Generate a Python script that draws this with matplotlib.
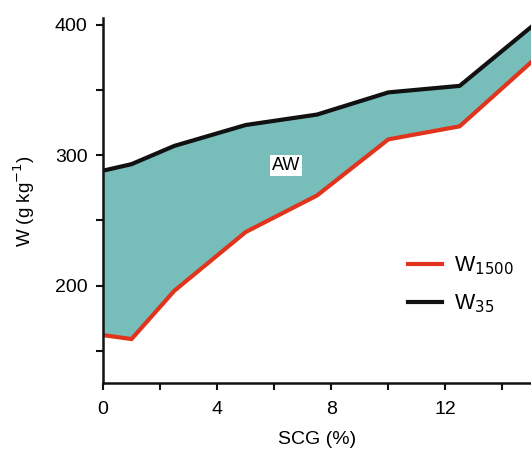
import matplotlib
matplotlib.use('Agg')
import matplotlib.pyplot as plt
import numpy as np
from matplotlib.ticker import MultipleLocator, FixedLocator

plt.rcParams['font.family'] = ['Liberation Sans', 'DejaVu Sans']

# data
scg = [0, 1, 2.5, 5, 7.5, 10, 12.5, 15]
w35 = [288, 293, 307, 323, 331, 348, 353, 398]
w1500 = [162, 159, 196, 241, 269, 312, 322, 371]

fill_color = '#77BDBA'
red = '#E0341C'
black = '#111111'

fig = plt.figure(figsize=(5.31, 4.5), dpi=100)
ax = fig.add_axes([0.194, 0.148, 0.806, 0.812])

ax.fill_between(scg, w1500, w35, color=fill_color, lw=0, zorder=1)
ax.plot(scg, w1500, color=red, lw=3, solid_joinstyle='miter', label='W$_{1500}$', zorder=3)
ax.plot(scg, w35, color=black, lw=3, solid_joinstyle='miter', label='W$_{35}$', zorder=3)

ax.text(6.42, 292, 'AW', fontsize=13, ha='center', va='center',
        bbox=dict(facecolor='white', edgecolor='none', pad=1.2), zorder=4)

ax.set_xlim(0, 15)
ax.set_ylim(125, 405)

ax.xaxis.set_major_locator(FixedLocator([0, 4, 8, 12]))
ax.xaxis.set_minor_locator(FixedLocator([2, 6, 10, 14]))
ax.yaxis.set_major_locator(FixedLocator([200, 300, 400]))
ax.yaxis.set_minor_locator(FixedLocator([150, 250, 350]))

for s in ['top', 'right']:
    ax.spines[s].set_visible(False)
for s in ['left', 'bottom']:
    ax.spines[s].set_linewidth(1.8)
    ax.spines[s].set_color(black)
    ax.spines[s].set_zorder(5)

ax.tick_params(which='both', direction='out', length=5, width=1.5, color=black,
               labelsize=14, pad=6)
ax.tick_params(axis='x', which='both', pad=8)

ax.set_xlabel('SCG (%)', fontsize=14, labelpad=9)
ax.set_ylabel('W (g kg$^{-1}$)', fontsize=13.5, labelpad=13)

leg = ax.legend(loc='center left', bbox_to_anchor=(0.667, 0.27), frameon=False,
                fontsize=15.5, handlelength=1.6, handletextpad=0.55, labelspacing=0.75)

fig.savefig('out.png', dpi=100)
